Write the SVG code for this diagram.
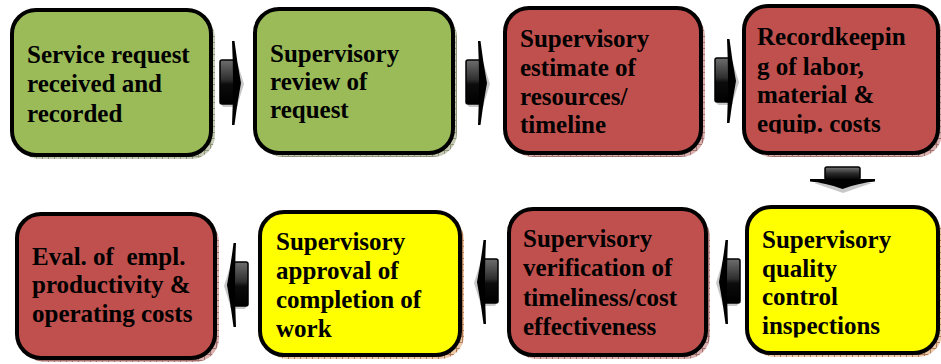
<svg xmlns="http://www.w3.org/2000/svg" width="941" height="364" viewBox="0 0 941 364" font-family="'Liberation Serif', 'DejaVu Serif', serif">
  <defs>
    <style>
      .box { stroke: #000; stroke-width: 4; }
      .green { fill: #9BBB59; }
      .red { fill: #C0504D; }
      .yellow { fill: #FFFF00; }
      text { font-family: 'Liberation Serif', 'DejaVu Serif', serif; font-weight: 700; font-size: 25px; fill: #000; white-space: pre; }
      .body { stroke: #000; stroke-width: 1.5; }
      .head { fill: #000; }
      .ghost { fill: #9a9a9a; opacity: 0.55; }
    </style>
    <!-- hatched drop shadows -->
    <pattern id="shGreen" width="6" height="6" patternUnits="userSpaceOnUse">
      <rect width="6" height="6" fill="#c5cab4"/>
      <path d="M0 0.5H6M0.5 0V6" stroke="#8e9478" stroke-width="1"/>
    </pattern>
    <pattern id="shRed" width="6" height="6" patternUnits="userSpaceOnUse">
      <rect width="6" height="6" fill="#d9b0ae"/>
      <path d="M0 0.5H6M0.5 0V6" stroke="#a0706e" stroke-width="1"/>
    </pattern>
    <pattern id="shYellow" width="6" height="6" patternUnits="userSpaceOnUse">
      <rect width="6" height="6" fill="#ecc9a8"/>
      <path d="M0 0.5H6M0.5 0V6" stroke="#b07a55" stroke-width="1"/>
    </pattern>
    <linearGradient id="barV" x1="0" y1="0" x2="0" y2="1">
      <stop offset="0" stop-color="#6e6e6e"/>
      <stop offset="0.45" stop-color="#2e2e2e"/>
      <stop offset="0.55" stop-color="#0c0c0c"/>
      <stop offset="1" stop-color="#000"/>
    </linearGradient>
    <linearGradient id="barH" x1="0" y1="0" x2="0" y2="1">
      <stop offset="0" stop-color="#777"/>
      <stop offset="0.5" stop-color="#2a2a2a"/>
      <stop offset="1" stop-color="#000"/>
    </linearGradient>
    <!-- block arrow pointing right, centred on its body -->
    <g id="arrowR">
      <rect class="ghost" x="-6" y="-19" width="16" height="44" rx="2"/>
      <path class="ghost" d="M6,-30 L16,2 L6,34 Z"/>
      <rect class="body" x="-8" y="-22" width="15" height="44" rx="2" fill="url(#barV)"/>
      <path class="head" d="M4,-41 L6.5,-41 Q9,-20 13,1 Q9,22 6.5,43 L4,43 Q6,0 4,-41 Z"/>
    </g>
    <clipPath id="clip4"><rect x="740" y="0" width="201" height="133.5"/></clipPath>
    <clipPath id="clip5"><rect x="740" y="200" width="201" height="137.5"/></clipPath>
  </defs>

  <rect width="941" height="364" fill="#fff"/>

  <!-- top row -->
  <g id="node-service-request">
    <rect x="16" y="14" width="199" height="145" rx="24" fill="url(#shGreen)"/>
    <rect class="box green" x="12" y="10" width="199" height="145" rx="24"/>
    <text x="27" y="63">Service request</text>
    <text x="27" y="92">received and</text>
    <text x="27" y="122">recorded</text>
  </g>

  <g id="node-supervisory-review">
    <rect x="259" y="13" width="198" height="144" rx="24" fill="url(#shGreen)"/>
    <rect class="box green" x="255" y="9" width="198" height="144" rx="24"/>
    <text x="270" y="62">Supervisory</text>
    <text x="270" y="90">review of</text>
    <text x="270" y="118">request</text>
  </g>

  <g id="node-supervisory-estimate">
    <rect x="509" y="12" width="196" height="145" rx="24" fill="url(#shRed)"/>
    <rect class="box red" x="505" y="8" width="196" height="145" rx="24"/>
    <text x="520" y="47">Supervisory</text>
    <text x="520" y="76">estimate of</text>
    <text x="520" y="105">resources/</text>
    <text x="520" y="133">timeline</text>
  </g>

  <g id="node-recordkeeping">
    <rect x="748" y="10" width="194" height="147" rx="24" fill="url(#shRed)"/>
    <rect class="box red" x="744" y="6" width="194" height="147" rx="24"/>
    <g clip-path="url(#clip4)">
      <text x="757" y="45">Recordkeepin</text>
      <text x="757" y="75">g of labor,</text>
      <text x="757" y="103">material &amp;</text>
      <text x="757" y="132">equip. costs</text>
    </g>
  </g>

  <!-- bottom row -->
  <g id="node-quality-control">
    <rect x="751" y="211" width="191" height="146" rx="24" fill="url(#shYellow)"/>
    <rect class="box yellow" x="747" y="207" width="191" height="146" rx="24"/>
    <g clip-path="url(#clip5)">
      <text x="762" y="248">Supervisory</text>
      <text x="762" y="277">quality</text>
      <text x="762" y="305">control</text>
      <text x="762" y="334">inspections</text>
    </g>
  </g>

  <g id="node-verification">
    <rect x="513" y="213" width="197" height="146" rx="24" fill="url(#shRed)"/>
    <rect class="box red" x="509" y="209" width="197" height="146" rx="24"/>
    <text x="523" y="247">Supervisory</text>
    <text x="523" y="276">verification of</text>
    <text x="523" y="306">timeliness/cost</text>
    <text x="523" y="335">effectiveness</text>
  </g>

  <g id="node-approval">
    <rect x="264" y="216" width="200" height="143" rx="24" fill="url(#shYellow)"/>
    <rect class="box yellow" x="260" y="212" width="200" height="143" rx="24"/>
    <text x="276" y="250">Supervisory</text>
    <text x="276" y="279">approval of</text>
    <text x="276" y="308">completion of</text>
    <text x="276" y="337">work</text>
  </g>

  <g id="node-evaluation">
    <rect x="21" y="218" width="198" height="144" rx="24" fill="url(#shRed)"/>
    <rect class="box red" x="17" y="214" width="198" height="144" rx="24"/>
    <text x="32" y="265">Eval. of  empl.</text>
    <text x="32" y="293">productivity &amp;</text>
    <text x="32" y="322">operating costs</text>
  </g>

  <!-- connectors -->
  <g id="connectors">
    <use href="#arrowR" transform="translate(228,82)"/>
    <use href="#arrowR" transform="translate(474,82)"/>
    <use href="#arrowR" transform="translate(723,80)"/>

    <!-- downward arrow between the rows -->
    <g id="arrow-down">
      <path class="ghost" d="M814,183 L872,183 L843,193 Z"/>
      <rect class="body" x="825" y="167" width="35" height="13" rx="2" fill="url(#barH)"/>
      <path class="head" d="M810,179 L875,179 L875,181.5 Q858,183 842.5,189 Q827,183 810,181.5 Z"/>
    </g>

    <use href="#arrowR" transform="translate(732,281) scale(-1,1)"/>
    <use href="#arrowR" transform="translate(490,281) scale(-1,1)"/>
    <use href="#arrowR" transform="translate(240,284) scale(-1,1)"/>
  </g>
</svg>
